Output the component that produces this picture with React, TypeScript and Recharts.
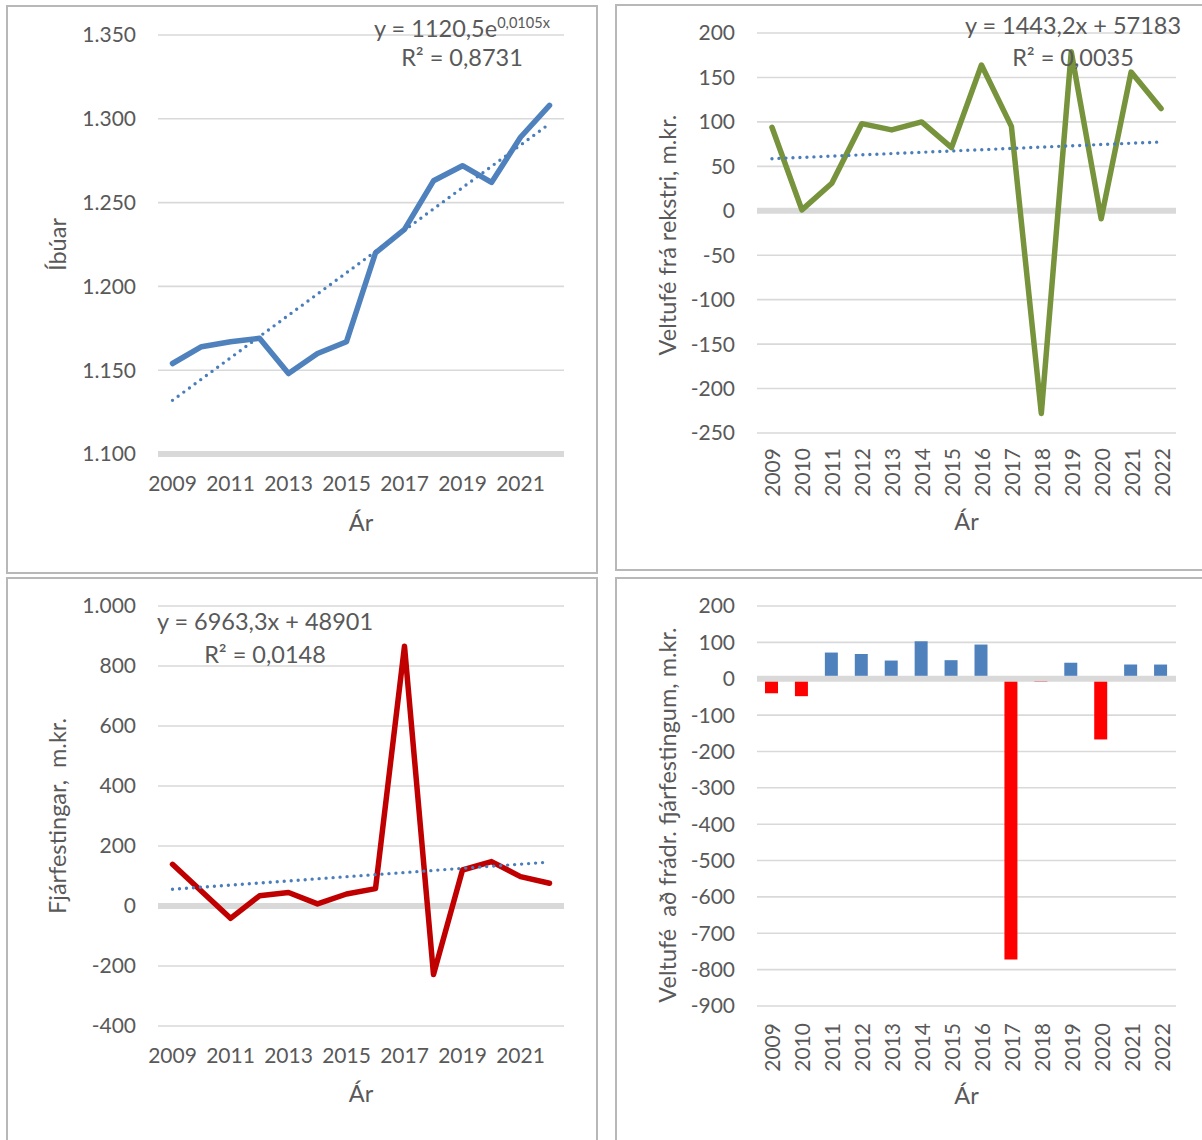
import React from 'react';
import { ComposedChart, Line, Bar, Cell, XAxis, YAxis, CartesianGrid, ReferenceLine } from 'recharts';

const years = ['2009', '2010', '2011', '2012', '2013', '2014', '2015', '2016', '2017', '2018', '2019', '2020', '2021', '2022'];

// Íbúar
const residents = [1154, 1164, 1167, 1169, 1148, 1160, 1167, 1220, 1234, 1263, 1272, 1262, 1289, 1308];
const residentsTrendEnds = [1132, 1297];
const residentsTicks = [1100, 1150, 1200, 1250, 1300, 1350];

// Veltufé frá rekstri
const operatingCash = [94, 1, 31, 98, 91, 100, 71, 164, 95, -228, 179, -9, 156, 115];
const operatingTrendEnds = [58.6, 77.4];
const operatingTicks = [-250, -200, -150, -100, -50, 0, 50, 100, 150, 200];

// Fjárfestingar
const investments = [139, 49, -41, 34, 45, 7, 40, 58, 866, -228, 120, 148, 98, 76];
const investmentsTrendEnds = [55.9, 146.4];
const investmentsTicks = [-400, -200, 0, 200, 400, 600, 800, 1000];

// Veltufé að frádr. fjárfestingum
const netCash = [-40, -48, 72, 68, 50, 103, 51, 94, -772, -9, 44, -167, 39, 39];
const netTicks = [-900, -800, -700, -600, -500, -400, -300, -200, -100, 0, 100, 200];

const FONT = 'Lato, "Open Sans", sans-serif';
const TXT = '#595959';
const GRID = '#D9D9D9';
const TREND = '#4A7EBB';

const fmt = (n: number) => {
  const s = Math.abs(n).toString().replace(/\B(?=(\d{3})+(?!\d))/g, '.');
  return (n < 0 ? '-' : '') + s;
};

const withTrend = (vals: number[], ends: number[]) =>
  years.map((y, i) => ({
    year: y,
    value: vals[i],
    trend: i === 0 ? ends[0] : i === years.length - 1 ? ends[1] : null,
  }));

const data1 = withTrend(residents, residentsTrendEnds);
const data2 = withTrend(operatingCash, operatingTrendEnds);
const data3 = withTrend(investments, investmentsTrendEnds);
const data4 = years.map((y, i) => ({ year: y, value: netCash[i] }));

const TICK_FS = 21;
const TITLE_FS = 23.5;
const tickStyle = { fill: TXT, fontSize: TICK_FS, fontFamily: FONT };

const RotTick = (props: any) => {
  const { x, y, payload } = props;
  return (
    <text
      x={x}
      y={y}
      transform={`rotate(-90 ${x} ${y})`}
      textAnchor="end"
      dominantBaseline="central"
      fill={TXT}
      fontSize={TICK_FS}
      fontFamily={FONT}
    >
      {payload.value}
    </text>
  );
};

const Panel = ({ left, top, width, height }: any) => (
  <div
    style={{
      position: 'absolute',
      left,
      top,
      width,
      height,
      boxSizing: 'border-box',
      border: '2px solid #B8B8B8',
    }}
  />
);

const Eq = ({ cx, cy, children }: any) => (
  <div
    style={{
      position: 'absolute',
      left: cx,
      top: cy,
      transform: 'translate(-50%, -50%)',
      whiteSpace: 'nowrap',
      fontSize: 23.5,
      lineHeight: 1,
      color: TXT,
      fontFamily: FONT,
    }}
  >
    {children}
  </div>
);

const yLabel = (value: string, offset: number, shift: number) => ({
  content: (p: any) => {
    const vb = p.viewBox || {};
    const cx = vb.x + offset;
    const cy = vb.y + vb.height / 2 + shift;
    return (
      <text
        x={cx}
        y={cy}
        transform={`rotate(-90 ${cx} ${cy})`}
        textAnchor="middle"
        dominantBaseline="central"
        fill={TXT}
        fontSize={TITLE_FS}
        fontFamily={FONT}
        style={{ whiteSpace: 'pre' }}
      >
        {value}
      </text>
    );
  },
});

const xLabel = (offset: number) => ({
  value: 'Ár',
  position: 'insideBottom' as const,
  offset,
  fill: TXT,
  fontSize: TITLE_FS,
  fontFamily: FONT,
});

const trendLine = (
  <Line
    dataKey="trend"
    stroke={TREND}
    strokeWidth={3.4}
    strokeDasharray="0 7"
    strokeLinecap="round"
    dot={false}
    activeDot={false}
    connectNulls
    isAnimationActive={false}
  />
);

const LW = 5.5;

export default function App() {
  return (
    <div
      style={{
        position: 'absolute',
        left: 0,
        top: 0,
        width: 1202,
        height: 1140,
        overflow: 'hidden',
        background: '#fff',
        fontFamily: FONT,
      }}
    >
      <Panel left={6} top={5} width={592} height={569} />
      <Panel left={615} top={4} width={600} height={567} />
      <Panel left={6} top={577} width={592} height={600} />
      <Panel left={615} top={577} width={600} height={600} />

      {/* Panel 1: Íbúar */}
      <div style={{ position: 'absolute', left: 7, top: 5 }}>
        <ComposedChart width={590} height={568} data={data1} margin={{ top: 30, right: 33, left: 0, bottom: 0 }}>
          <CartesianGrid vertical={false} stroke={GRID} strokeWidth={1.6} />
          <XAxis
            dataKey="year"
            scale="band"
            interval={1}
            height={119}
            tickLine={false}
            tickSize={0}
            tickMargin={22}
            axisLine={{ stroke: GRID, strokeWidth: 6 }}
            tick={tickStyle}
            label={xLabel(42)}
          />
          <YAxis
            domain={[1100, 1350]}
            ticks={residentsTicks}
            tickFormatter={fmt}
            width={151}
            axisLine={false}
            tickLine={false}
            tickSize={0}
            tickMargin={22}
            tick={tickStyle}
            label={yLabel('Íbúar', 50, 0)}
          />
          <Line
            dataKey="value"
            stroke="#4F81BD"
            strokeWidth={LW}
            strokeLinejoin="round"
            strokeLinecap="round"
            dot={false}
            activeDot={false}
            isAnimationActive={false}
          />
          {trendLine}
        </ComposedChart>
      </div>

      {/* Panel 2: Veltufé frá rekstri */}
      <div style={{ position: 'absolute', left: 616, top: 5 }}>
        <ComposedChart width={586} height={565} data={data2} margin={{ top: 28, right: 26, left: 0, bottom: 0 }}>
          <CartesianGrid vertical={false} stroke={GRID} strokeWidth={1.6} />
          <XAxis
            dataKey="year"
            scale="band"
            interval={0}
            height={137}
            tickLine={false}
            tickSize={0}
            tickMargin={15}
            axisLine={false}
            tick={<RotTick />}
            label={xLabel(40)}
          />
          <YAxis
            domain={[-250, 200]}
            ticks={operatingTicks}
            tickFormatter={fmt}
            width={141}
            axisLine={false}
            tickLine={false}
            tickSize={0}
            tickMargin={22}
            tick={tickStyle}
            label={yLabel('Veltufé frá rekstri, m.kr.', 51, 2)}
          />
          <ReferenceLine y={0} stroke={GRID} strokeWidth={6} />
          <Line
            dataKey="value"
            stroke="#77933C"
            strokeWidth={LW}
            strokeLinejoin="round"
            strokeLinecap="round"
            dot={false}
            activeDot={false}
            isAnimationActive={false}
          />
          {trendLine}
        </ComposedChart>
      </div>

      {/* Panel 3: Fjárfestingar */}
      <div style={{ position: 'absolute', left: 7, top: 577 }}>
        <ComposedChart width={590} height={563} data={data3} margin={{ top: 29, right: 33, left: 0, bottom: 0 }}>
          <CartesianGrid vertical={false} stroke={GRID} strokeWidth={1.6} />
          <XAxis
            dataKey="year"
            scale="band"
            interval={1}
            height={114}
            tickLine={false}
            tickSize={0}
            tickMargin={22}
            axisLine={false}
            tick={tickStyle}
            label={xLabel(38)}
          />
          <YAxis
            domain={[-400, 1000]}
            ticks={investmentsTicks}
            tickFormatter={fmt}
            width={151}
            axisLine={false}
            tickLine={false}
            tickSize={0}
            tickMargin={22}
            tick={tickStyle}
            label={yLabel('Fjárfestingar,  m.kr.', 50, 0)}
          />
          <ReferenceLine y={0} stroke={GRID} strokeWidth={6} />
          <Line
            dataKey="value"
            stroke="#C00000"
            strokeWidth={LW}
            strokeLinejoin="round"
            strokeLinecap="round"
            dot={false}
            activeDot={false}
            isAnimationActive={false}
          />
          {trendLine}
        </ComposedChart>
      </div>

      {/* Panel 4: Veltufé að frádr. fjárfestingum */}
      <div style={{ position: 'absolute', left: 616, top: 577 }}>
        <ComposedChart width={586} height={563} data={data4} margin={{ top: 29, right: 26, left: 0, bottom: 0 }}>
          <CartesianGrid vertical={false} stroke={GRID} strokeWidth={1.6} />
          <XAxis
            dataKey="year"
            interval={0}
            height={134}
            tickLine={false}
            tickSize={0}
            tickMargin={17}
            axisLine={false}
            tick={<RotTick />}
            label={xLabel(36)}
          />
          <YAxis
            domain={[-900, 200]}
            ticks={netTicks}
            tickFormatter={fmt}
            width={141}
            axisLine={false}
            tickLine={false}
            tickSize={0}
            tickMargin={22}
            tick={tickStyle}
            label={yLabel('Veltufé  að frádr. fjárfestingum, m.kr.', 51, 9)}
          />
          <Bar dataKey="value" barSize={13} isAnimationActive={false}>
            {data4.map((d, i) => (
              <Cell key={i} fill={d.value < 0 ? '#FF0000' : '#4F81BD'} />
            ))}
          </Bar>
          <ReferenceLine y={0} stroke={GRID} strokeWidth={6} />
        </ComposedChart>
      </div>

      <Eq cx={462} cy={29}>
        y = 1120,5e
        <span style={{ fontSize: '0.62em', position: 'relative', top: '-0.62em' }}>0,0105x</span>
      </Eq>
      <Eq cx={462} cy={58}>R² = 0,8731</Eq>
      <Eq cx={1073} cy={26}>y = 1443,2x + 57183</Eq>
      <Eq cx={1073} cy={58}>R² = 0,0035</Eq>
      <Eq cx={265} cy={622}>y = 6963,3x + 48901</Eq>
      <Eq cx={265} cy={655}>R² = 0,0148</Eq>
    </div>
  );
}
